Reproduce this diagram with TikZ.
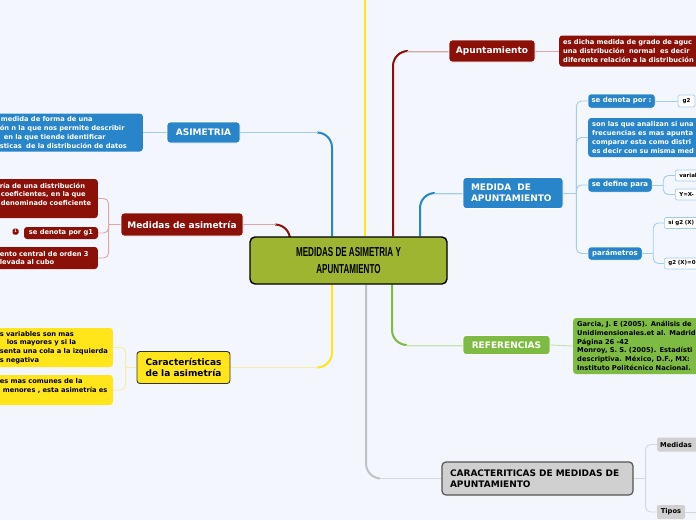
\documentclass[tikz,border=0pt]{standalone}
\usepackage{fontspec}
\setmainfont{DejaVu Sans}
\newfontfamily\condfont[FakeStretch=0.62]{Liberation Sans}
\usetikzlibrary{calc}
\definecolor{bgc}{HTML}{F3F6FD}
\definecolor{cblue}{HTML}{2985C9}
\definecolor{lblue}{HTML}{A3CCEB}
\definecolor{cred}{HTML}{8B1108}
\definecolor{lred}{HTML}{DBA7A7}
\definecolor{cyel}{HTML}{FFE51A}
\definecolor{lyel}{HTML}{F8EDA6}
\definecolor{cgreen}{HTML}{7EBB42}
\definecolor{lgreen}{HTML}{C6E2A8}
\definecolor{ccen}{HTML}{9DB530}
\definecolor{cgrey}{HTML}{D0D0D0}
\definecolor{lgrey}{HTML}{D6D7DB}
\definecolor{dgrey}{HTML}{555555}
\pgfdeclarelayer{bglayer}
\pgfdeclarelayer{lines}
\pgfsetlayers{bglayer,lines,main}
\tikzset{
  big/.style={font=\bfseries\fontsize{9}{11}\selectfont, rounded corners=3pt, inner sep=0pt, align=center},
  mainbox/.style={big, draw=white, line width=0.8pt, text=white},
  leaf/.style={font=\bfseries\fontsize{6.7}{8.7}\selectfont, rounded corners=3pt, inner xsep=4pt, inner ysep=0pt, align=left},
  midbox/.style={font=\bfseries\fontsize{7}{8}\selectfont, rounded corners=3pt, inner sep=0pt, fill=cblue, text=white, draw=white, line width=0.5pt},
  tinybox/.style={font=\bfseries\fontsize{5.5}{6}\selectfont, rounded corners=2pt, inner xsep=4pt, inner ysep=0pt, fill=white, draw=lblue, line width=0.7pt, minimum height=11pt, align=left},
  greybox/.style={font=\bfseries\fontsize{6.7}{8}\selectfont, rounded corners=2pt, inner xsep=3pt, inner ysep=0pt, fill=cgrey, text=black, minimum height=14pt},
  trunk/.style={line width=2pt, rounded corners=15pt},
  fade/.style={line width=1pt},
  erase/.style={line width=2.8pt, bgc},
  twig/.style={line width=0.9pt, rounded corners=5pt},
}
\begin{document}
\begin{tikzpicture}[x=1pt,y=-1pt]
\begin{pgfonlayer}{bglayer}
\fill[bgc] (0,0) rectangle (696,520);
\end{pgfonlayer}
\useasboundingbox (0,0) rectangle (696,520);

% central
\node[fill=ccen, draw=black, line width=1.4pt, rounded corners=5pt, minimum width=197pt, minimum height=47pt, inner sep=0pt, align=center,
  font=\condfont\bfseries\fontsize{13}{17}\selectfont] (c) at (348.5,260.5) {MEDIDAS DE ASIMETRIA Y\\APUNTAMIENTO};

% left: ASIMETRIA
\node[mainbox, fill=cblue, minimum width=73pt, minimum height=21pt] (asim) at (203.5,132.5) {ASIMETRIA};
\node[leaf, fill=cblue, text=white, anchor=east, text width=139pt, minimum height=38pt] (asimC) at (143,132.5)
 {\hspace*{1pt}medida de forma de una\\ón n la que nos permite describir\\\hspace*{4pt}en la que tiende identificar\\sticas\ \ de la distribución de datos};

% left: Medidas de asimetria
\node[mainbox, fill=cred, minimum width=122pt, minimum height=23pt] (medas) at (182,224.5) {Medidas de asimetría};
\node[leaf, fill=cred, text=white, anchor=east, text width=94pt, minimum height=39pt] (medA) at (98,198.5)
 {ría de una distribución\\\hspace*{1pt}coeficientes, en la que\\\hspace*{1pt}denominado coeficiente\\\mbox{}};
\node[leaf, fill=cred, text=white, inner xsep=0pt, minimum width=74pt, minimum height=12pt, align=center] (medB) at (61,233) {se denota por g1};
\node[fill=cred, rounded corners=1.5pt, minimum width=6pt, minimum height=6pt, inner sep=0pt, text=white, font=\bfseries\fontsize{3.5}{4}\selectfont] (badge) at (15.5,231.5) {1};
\node[leaf, fill=cred, text=white, anchor=east, text width=94pt, minimum height=22pt] (medC) at (98,258)
 {ento central de orden 3\\levada al cubo};

% left: Caracteristicas
\node[big, fill=cyel, draw=black!80, line width=0.9pt, text=black, minimum width=93pt, minimum height=32pt] (cara) at (183.5,367.5) {Características\\de la asimetría};
\node[leaf, fill=cyel, text=black, anchor=east, text width=109pt, minimum height=39pt] (caraA) at (113,347.5)
 {s variables son mas\\\hspace*{7pt}los mayores y si la\\senta una cola a la izquierda\\s negativa};
\node[leaf, fill=cyel, text=black, anchor=east, text width=130pt, minimum height=30pt] (caraB) at (113,390)
 {\hspace*{21pt}es mas comunes de la\\\hspace*{24pt}menores , esta asimetría es\\\mbox{}};

% right: Apuntamiento
\node[mainbox, fill=cred, minimum width=86pt, minimum height=22pt] (apun) at (492,51) {Apuntamiento};
\node[leaf, fill=cred, text=white, anchor=west, text width=160pt, minimum height=31pt] (apunC) at (559,51)
 {es dicha medida de grado de aguc\\una distribución\ \ normal\ \ es decir\\diferente relación a la distribución};

% right: MEDIDA DE APUNTAMIENTO
\node[mainbox, fill=cblue, minimum width=100pt, minimum height=31pt, align=left, text width=84pt, inner xsep=8pt] (medap) at (513,193) {MEDIDA\ \ DE\\APUNTAMIENTO};
\node[midbox, minimum width=67pt, minimum height=14pt] (denota) at (621.5,101) {se denota por :};
\node[tinybox, anchor=center, inner xsep=0pt, minimum width=17pt, minimum height=12pt, align=center] (g2) at (686.5,101) {g2};
\node[leaf, fill=cblue, text=white, anchor=west, text width=150pt, minimum height=39pt] (sonlas) at (588,137.5)
 {son las que analizan si una\\frecuencias es mas apunta\\comparar esta como distri\\es decir con su misma med};
\node[midbox, minimum width=64pt, minimum height=14pt] (define) at (620,185) {se define para};
\node[tinybox, anchor=west, text width=40pt] (variabl) at (675,175.5) {variabl};
\node[tinybox, anchor=west, text width=40pt] (yx) at (675,194.5) {Y=X-};
\node[midbox, minimum width=54pt, minimum height=13pt] (param) at (615,253.5) {parámetros};
\node[tinybox, anchor=west, text width=50pt] (sig2) at (664,223) {si g2 (X)};
\node[tinybox, anchor=west, text width=50pt] (g2x) at (664,263.5) {g2 (X)=0};

% right: REFERENCIAS
\node[mainbox, fill=cgreen, minimum width=87pt, minimum height=19pt] (refs) at (506.5,345) {REFERENCIAS};
\node[leaf, fill=cgreen, text=black, anchor=west, text width=160pt, minimum height=56pt] (refsC) at (573,346)
 {Garcia, J. E (2005). Análisis de\\Unidimensionales.et al. Madrid\\Página 26 -42\\Monroy, S. S. (2005). Estadísti\\descriptiva. México, D.F., MX:\\Instituto Politécnico Nacional.};

% bottom: CARACTERITICAS
\node[big, fill=cgrey, draw=dgrey, line width=1.2pt, rounded corners=4pt, text=black, align=left, text width=175pt, inner xsep=8pt, minimum width=191pt, minimum height=33pt] (caract) at (537.5,478.5)
 {CARACTERITICAS DE MEDIDAS DE\\APUNTAMIENTO};
\node[greybox, anchor=west, text width=40pt, align=left] (medidas) at (657,444.5) {Medidas};
\node[greybox, anchor=center, minimum width=28pt, inner xsep=0pt] (tipos) at (671,512) {Tipos};

\coordinate (ytop) at (365,-3);
\coordinate (tend) at (699,512);

\begin{pgfonlayer}{lines}
% trunks going up
\draw[trunk, cblue] ([xshift=-16.5pt]c.north) |- (asim.east);
\draw[erase] (asim.east) -- ++(77,0);
\draw[fade, lblue] (asim.east) -- ++(77.5,0);

\draw[trunk, cred] ([xshift=-58.5pt]c.north) |- (medas.east);
\draw[erase] (medas.east) -- ++(32,0);
\draw[fade, lred] (medas.east) -- ++(32.5,0);

\draw[line width=2pt, cyel] ([xshift=16.5pt]c.north) -- (ytop);

\draw[trunk, cred] ([xshift=44.5pt]c.north) |- (apun.west);
\draw[erase] (apun.west) -- ++(-41,0);
\draw[fade, lred] (apun.west) -- ++(-41.5,0);

\draw[trunk, cblue] ([xshift=71.5pt]c.north) |- (medap.west);
\draw[erase] (medap.west) -- ++(-28,0);
\draw[fade, lblue] (medap.west) -- ++(-28.5,0);

% trunks going down
\draw[trunk, cyel] ([xshift=-16.5pt]c.south) |- (cara.east);
\draw[erase] (cara.east) -- ++(87,0);
\draw[fade, lyel] (cara.east) -- ++(87.5,0);

\draw[trunk, cgreen] ([xshift=43.5pt]c.south) |- (refs.west);
\draw[erase] (refs.west) -- ++(-56,0);
\draw[fade, lgreen] (refs.west) -- ++(-56.5,0);

\draw[trunk, lgrey!90!black] ([xshift=17.5pt]c.south) |- (caract.west);
\draw[erase] (caract.west) -- ++(-61,0);
\draw[fade, lgrey] (caract.west) -- ++(-61.5,0);

% twigs
\draw[twig, lblue] (asim.west) -- (asimC.east);

\coordinate (j1) at ([xshift=-12pt]medas.west);
\draw[twig, lred] (medas.west) -- (j1);
\draw[twig, lred] (j1) |- (medA.east);
\draw[twig, lred] (j1) |- (medB.east);
\draw[twig, lred] (j1) |- (medC.east);

\coordinate (j2) at ([xshift=-11pt]cara.west);
\draw[twig, lyel] (cara.west) -- (j2);
\draw[twig, lyel] (j2) |- (caraA.east);
\draw[twig, lyel] (j2) |- (caraB.east);

\draw[twig, lred] (apun.east) -- (apunC.west);

\coordinate (j3) at ([xshift=13pt]medap.east);
\draw[twig, lblue] (medap.east) -- (j3);
\draw[twig, lblue] (j3) |- (denota.west);
\draw[twig, lblue] (j3) |- (sonlas.west);
\draw[twig, lblue] (j3) |- (define.west);
\draw[twig, lblue] (j3) |- (param.west);
\draw[twig, lblue] (denota.east) -- (g2.west);

\coordinate (j4) at ([xshift=11pt]define.east);
\draw[twig, lblue] (define.east) -- (j4);
\draw[twig, lblue] (j4) |- (variabl.west);
\draw[twig, lblue] (j4) |- (yx.west);

\coordinate (j5) at ([xshift=11pt]param.east);
\draw[twig, lblue] (param.east) -- (j5);
\draw[twig, lblue] (j5) |- (sig2.west);
\draw[twig, lblue] (j5) |- (g2x.west);

\draw[twig, lgreen] (refs.east) -- (refsC.west);

\coordinate (j6) at ([xshift=12pt]caract.east);
\draw[twig, lgrey] (caract.east) -- (j6);
\draw[twig, lgrey] (j6) |- (medidas.west);
\draw[twig, lgrey] (j6) |- (tipos.west);
\draw[twig, lgrey] (tipos.east) -- (tend);
\end{pgfonlayer}
\end{tikzpicture}
\end{document}
